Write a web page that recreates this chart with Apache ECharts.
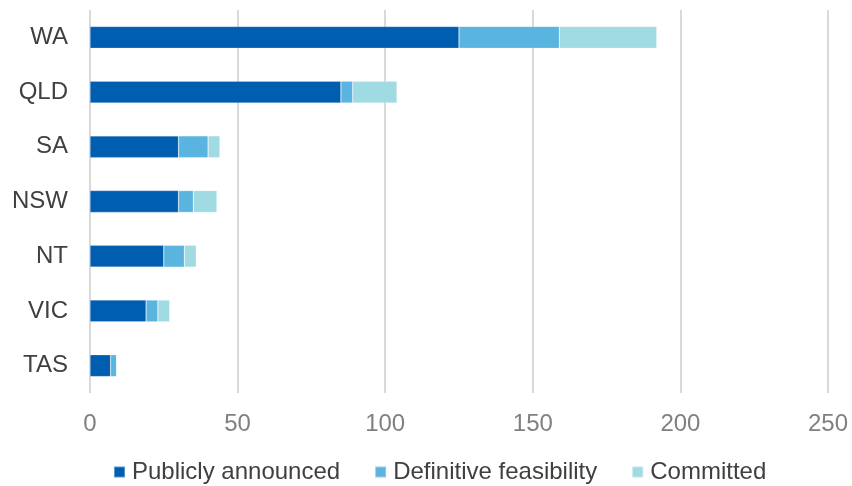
<!DOCTYPE html>
<html>
<head>
<meta charset="utf-8">
<script src="https://cdn.jsdelivr.net/npm/echarts@6/dist/echarts.min.js"></script>
<style>
  html, body { margin: 0; padding: 0; background: #ffffff; }
  #chart { width: 852px; height: 486px; }
</style>
</head>
<body>
<div id="chart"></div>
<script>
// Projects by state, split by development stage
const states = ['WA', 'QLD', 'SA', 'NSW', 'NT', 'VIC', 'TAS'];
const publiclyAnnounced = [125, 85, 30, 30, 25, 19, 7];
const definitiveFeasibility = [34, 4, 10, 5, 7, 4, 2];
const committed = [33, 15, 4, 8, 4, 4, 0];
const xTicks = [0, 50, 100, 150, 200, 250];

const font = 'Liberation Sans, Arial, sans-serif';
const chart = echarts.init(document.getElementById('chart'), null, { renderer: 'canvas' });

function stage(name, values, color) {
  return {
    name: name,
    type: 'bar',
    stack: 'total',
    data: values,
    barCategoryGap: '60%',
    itemStyle: { color: color, borderColor: 'rgba(255,255,255,0.35)', borderWidth: 0.6 },
    emphasis: { disabled: true }
  };
}

chart.setOption({
  animation: false,
  grid: { left: 90, right: 24, top: 10, bottom: 93, containLabel: false },
  xAxis: {
    type: 'value',
    min: xTicks[0],
    max: xTicks[xTicks.length - 1],
    interval: 50,
    axisLine: { show: false },
    axisTick: { show: false },
    splitLine: { lineStyle: { color: '#d9d9d9', width: 2 } },
    axisLabel: { color: '#808080', fontSize: 24, fontFamily: font, margin: 19 }
  },
  yAxis: {
    type: 'category',
    data: states,
    inverse: true,
    axisLine: { show: false },
    axisTick: { show: false },
    axisLabel: { color: '#404040', fontSize: 24, fontFamily: font, margin: 22 }
  },
  legend: {
    top: 460,
    left: 113,
    padding: 0,
    itemWidth: 11,
    itemHeight: 11,
    itemGap: 34,
    icon: 'rect',
    textStyle: { color: '#404040', fontSize: 24, fontFamily: font, padding: [0, 0, 0, 2] },
    data: ['Publicly announced', 'Definitive feasibility', 'Committed']
  },
  series: [
    stage('Publicly announced', publiclyAnnounced, '#005EB0'),
    stage('Definitive feasibility', definitiveFeasibility, '#5AB4E0'),
    stage('Committed', committed, '#A0DAE2')
  ]
});
</script>
</body>
</html>
